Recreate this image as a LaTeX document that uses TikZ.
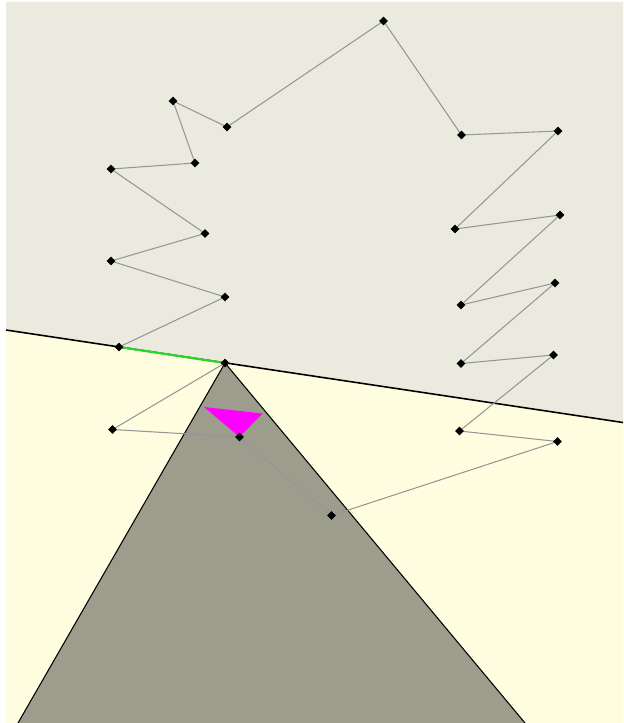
\documentclass[tikz,border=0pt]{standalone}
\usetikzlibrary{shapes.geometric}
\usepackage{xcolor}
\definecolor{upperbg}{RGB}{235,234,222}
\definecolor{lowerbg}{RGB}{255,253,224}
\definecolor{wedgegray}{RGB}{157,157,141}
\definecolor{edgegray}{RGB}{150,150,150}
\definecolor{hitgreen}{RGB}{40,215,40}
\definecolor{hitmagenta}{RGB}{255,0,255}

\begin{document}
\begin{tikzpicture}[x=0.02cm, y=-0.02cm,
  vertex/.style={diamond, fill=black, inner sep=0pt, minimum size=0.18cm},
  edge/.style={draw=edgegray, line width=0.6pt},
  divider/.style={draw=black, line width=0.9pt},
  wedge/.style={draw=black, line width=0.6pt},
  hit/.style={draw=hitgreen, line width=1.2pt}
]
\useasboundingbox (0,0) rectangle (623,723);
% background halves
\fill[white] (0,0) rectangle (623,723);
\coordinate (dl) at (6,330);
\coordinate (dr) at (623,422.5);
\fill[upperbg] (6,2) -- (623,2) -- (dr) -- (dl) -- cycle;
\fill[lowerbg] (dl) -- (dr) -- (623,723) -- (6,723) -- cycle;
% polygon vertices
\coordinate (v1) at (119,347);
\coordinate (v2) at (225,297);
\coordinate (v3) at (111,261);
\coordinate (v4) at (205,233.5);
\coordinate (v5) at (111,169);
\coordinate (v6) at (195,163);
\coordinate (v7) at (173,101);
\coordinate (v8) at (227,127);
\coordinate (v9) at (383.5,21);
\coordinate (v10) at (461.5,135);
\coordinate (v11) at (558,131);
\coordinate (v12) at (455,229);
\coordinate (v13) at (560,215);
\coordinate (v14) at (461,305);
\coordinate (v15) at (555,283);
\coordinate (v16) at (461,363.5);
\coordinate (v17) at (553.5,355);
\coordinate (v18) at (459.5,431);
\coordinate (v19) at (557.5,441.5);
\coordinate (v20) at (331.5,515.5);
\coordinate (v21) at (239.5,437);
\coordinate (v22) at (112.5,429.5);
\coordinate (v23) at (225,363);
% wedge
\coordinate (wl) at (18,723);
\coordinate (wr) at (525,723);
\fill[wedgegray] (wl) -- (v23) -- (wr) -- cycle;
\draw[wedge] (wl) -- (v23) -- (wr);
\draw[divider] (dl) -- (dr);
% magenta patch
\coordinate (m1) at (204,407);
\coordinate (m2) at (262.5,413.5);
\fill[hitmagenta] (m1) -- (m2) -- (v21) -- cycle;
% polygon edges
\draw[edge] (v1) -- (v2) -- (v3) -- (v4) -- (v5) -- (v6) -- (v7) -- (v8)
  -- (v9) -- (v10) -- (v11) -- (v12) -- (v13) -- (v14) -- (v15) -- (v16)
  -- (v17) -- (v18) -- (v19) -- (v20) -- (v21) -- (v22) -- (v23);
\draw[hit] (v23) -- (v1);
% markers
\node[vertex] (n1) at (v1) {};
\node[vertex] (n2) at (v2) {};
\node[vertex] (n3) at (v3) {};
\node[vertex] (n4) at (v4) {};
\node[vertex] (n5) at (v5) {};
\node[vertex] (n6) at (v6) {};
\node[vertex] (n7) at (v7) {};
\node[vertex] (n8) at (v8) {};
\node[vertex] (n9) at (v9) {};
\node[vertex] (n10) at (v10) {};
\node[vertex] (n11) at (v11) {};
\node[vertex] (n12) at (v12) {};
\node[vertex] (n13) at (v13) {};
\node[vertex] (n14) at (v14) {};
\node[vertex] (n15) at (v15) {};
\node[vertex] (n16) at (v16) {};
\node[vertex] (n17) at (v17) {};
\node[vertex] (n18) at (v18) {};
\node[vertex] (n19) at (v19) {};
\node[vertex] (n20) at (v20) {};
\node[vertex] (n21) at (v21) {};
\node[vertex] (n22) at (v22) {};
\node[vertex] (n23) at (v23) {};
\end{tikzpicture}
\end{document}
